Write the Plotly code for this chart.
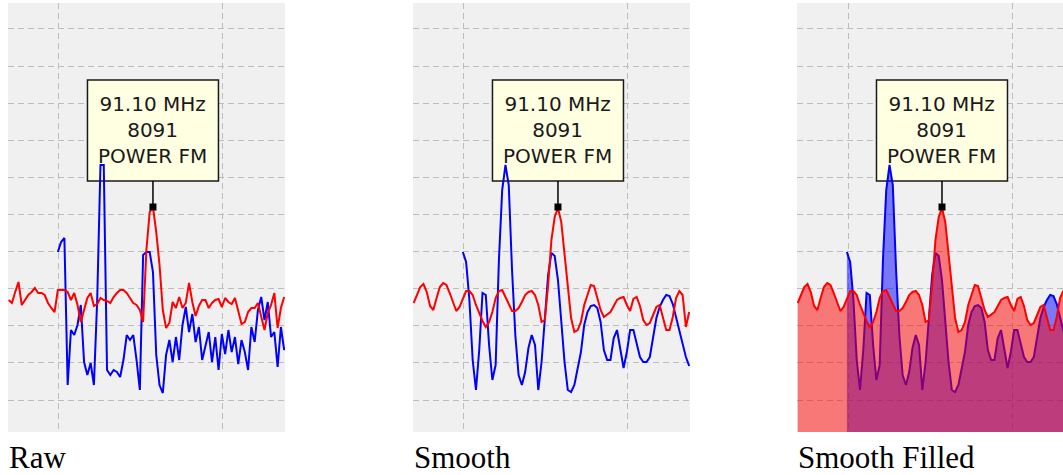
"""Spectrum view: raw vs smoothed vs smoothed+filled traces."""

import numpy as np
import plotly.graph_objects as go

# spectrum bins (MHz), 20 kHz apart
FREQ_START = 90.22
FREQ_STEP = 0.02
BLUE_START = 15  # second scan only reports from 90.52 MHz up

# signal level per bin (arbitrary units, 0 = bottom of the view)
raw_red = [
    132, 129, 140, 150, 127, 132, 137, 140, 144, 139,
    139, 137, 129, 124, 120, 142, 142, 142, 140, 132,
    139, 127, 110, 122, 134, 139, 126, 128, 134, 132,
    131, 129, 135, 139, 142, 142, 139, 134, 129, 127,
    122, 110, 182, 220, 225, 200, 167, 122, 104, 109,
    130, 124, 135, 124, 129, 149, 130, 116, 126, 132,
    132, 124, 129, 132, 133, 125, 134, 130, 128, 134,
    120, 108, 110, 120, 124, 124, 129, 114, 102, 119,
    127, 139, 104, 124, 135,
]
raw_blue = [
    180, 190, 194, 47, 102, 97, 107, 127, 70, 57,
    69, 47, 132, 267, 267, 62, 57, 62, 60, 55,
    72, 97, 92, 97, 72, 42, 177, 180, 180, 160,
    77, 47, 39, 77, 92, 70, 95, 72, 107, 125,
    100, 118, 90, 105, 72, 85, 100, 70, 95, 62,
    98, 78, 102, 80, 95, 68, 92, 80, 62, 105,
    90, 122, 135, 112, 130, 95, 100, 65, 105, 82,
]
smooth_red = [
    129, 137, 145, 148, 140, 126, 122, 134, 145, 149,
    147, 139, 129, 121, 125, 134, 141, 141, 137, 127,
    119, 111, 105, 110, 120, 134, 141, 142, 135, 128,
    121, 121, 124, 130, 137, 140, 141, 137, 127, 110,
    112, 147, 192, 215, 224, 210, 177, 142, 114, 100,
    102, 110, 127, 137, 147, 146, 134, 122, 115, 118,
    120, 126, 132, 134, 135, 127, 121, 133, 135, 126,
    112, 107, 109, 117, 125, 127, 114, 102, 102, 115,
    134, 141, 137, 105, 120,
]
smooth_blue = [
    180, 170, 132, 72, 42, 82, 139, 137, 87, 52,
    67, 172, 242, 267, 247, 162, 97, 57, 47, 60,
    84, 97, 87, 42, 70, 114, 157, 179, 176, 152,
    112, 70, 42, 40, 47, 64, 80, 107, 120, 126,
    127, 124, 110, 82, 72, 72, 94, 102, 82, 64,
    80, 102, 102, 89, 75, 70, 70, 75, 97, 114,
    125, 132, 137, 136, 128, 114, 102, 87, 75, 66,
]

station_freq = 91.10
station_level = 225
station_label = ["91.10 MHz", "8091", "POWER FM"]
panel_titles = ["Raw", "Smooth", "Smooth Filled"]

freq = np.round(FREQ_START + FREQ_STEP * np.arange(len(raw_red)), 2)

panels = [
    (raw_red, raw_blue, False),
    (smooth_red, smooth_blue, False),
    (smooth_red, smooth_blue, True),
]
x_domains = [[0.0075, 0.2681], [0.3885, 0.6491], [0.7498, 1.0]]
x_ranges = [[90.216, 91.905], [90.216, 91.905], [90.216, 91.838]]

fig = go.Figure()

for i, (red, blue, filled) in enumerate(panels, start=1):
    xa = "x" if i == 1 else f"x{i}"
    ya = "y" if i == 1 else f"y{i}"

    fig.add_trace(
        go.Scatter(
            x=freq[BLUE_START:],
            y=blue,
            mode="lines",
            line=dict(color="#0000FF", width=2),
            fill="tozeroy" if filled else None,
            fillcolor="rgba(0,0,255,0.5)",
            xaxis=xa,
            yaxis=ya,
            showlegend=False,
        )
    )
    fig.add_trace(
        go.Scatter(
            x=freq,
            y=red,
            mode="lines",
            line=dict(color="#FF0000", width=2),
            fill="tozeroy" if filled else None,
            fillcolor="rgba(255,0,0,0.5)",
            xaxis=xa,
            yaxis=ya,
            showlegend=False,
        )
    )
    # tuned station marker
    fig.add_trace(
        go.Scatter(
            x=[station_freq],
            y=[station_level],
            mode="markers",
            marker=dict(symbol="square", size=7, color="black"),
            xaxis=xa,
            yaxis=ya,
            showlegend=False,
        )
    )

    # tooltip box sits under the traces, above the grid
    fig.add_shape(
        type="rect",
        xref=xa,
        yref=ya,
        xsizemode="pixel",
        ysizemode="pixel",
        xanchor=station_freq,
        yanchor=station_level,
        x0=-65.5,
        x1=65.5,
        y0=26,
        y1=127,
        fillcolor="#FFFFE1",
        line=dict(color="#1a1a1a", width=1.5),
        layer="between",
    )
    fig.add_shape(
        type="line",
        xref=xa,
        yref=ya,
        xsizemode="pixel",
        ysizemode="pixel",
        xanchor=station_freq,
        yanchor=station_level,
        x0=0,
        x1=0,
        y0=0,
        y1=26,
        line=dict(color="black", width=1.5),
        layer="between",
    )
    fig.add_annotation(
        x=station_freq,
        y=station_level,
        xref=xa,
        yref=ya,
        yshift=77,
        yanchor="middle",
        text="<br>".join(station_label),
        showarrow=False,
        align="center",
        font=dict(family="DejaVu Sans", size=20, color="#1a1a1a"),
    )
    fig.add_annotation(
        x=x_domains[i - 1][0] - 0.001,
        y=0.0358,
        xref="paper",
        yref="paper",
        xanchor="left",
        yanchor="middle",
        text=panel_titles[i - 1],
        showarrow=False,
        font=dict(family="Liberation Serif", size=31, color="black"),
    )

    axis_common = dict(
        showticklabels=False,
        ticks="",
        zeroline=False,
        showline=False,
        showgrid=True,
        gridcolor="#BDBDBD",
        gridwidth=1,
        griddash="6px,4px",
        fixedrange=True,
    )
    fig.update_layout(
        {
            f"xaxis{'' if i == 1 else i}": dict(
                domain=x_domains[i - 1],
                range=x_ranges[i - 1],
                anchor=ya,
                tick0=90.527,
                dtick=1,
                **axis_common,
            ),
            f"yaxis{'' if i == 1 else i}": dict(
                domain=[0.0905, 0.9937],
                range=[0, 429],
                anchor=xa,
                tick0=32,
                dtick=37.1,
                **axis_common,
            ),
        }
    )

fig.update_layout(
    width=1063,
    height=475,
    plot_bgcolor="#F0F0F0",
    paper_bgcolor="white",
    margin=dict(l=0, r=0, t=0, b=0),
    hovermode=False,
)

# drop the default page margin so the figure sits at the window corner
fig.write_html(
    "out.html",
    config={"displayModeBar": False},
    post_script="document.body.style.margin = '0';",
)
